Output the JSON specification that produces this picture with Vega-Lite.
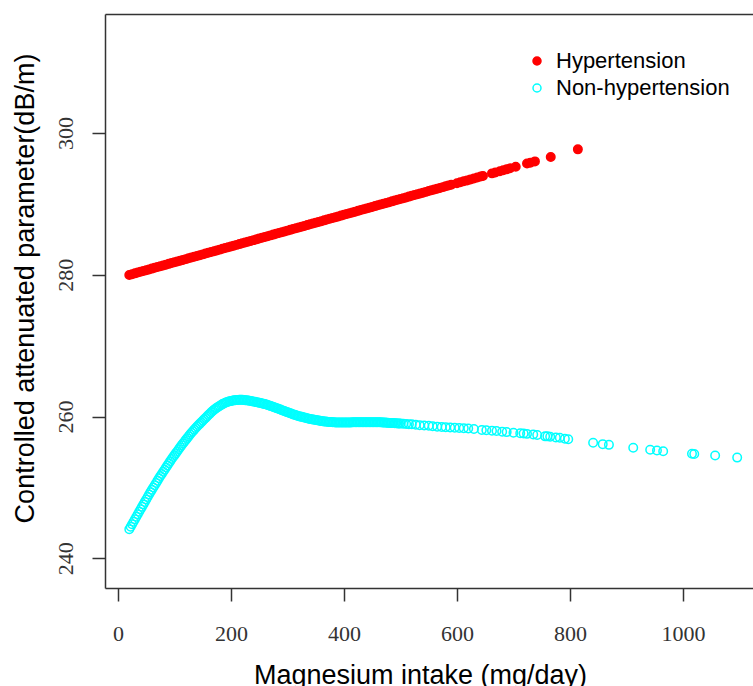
{
"$schema":"https://vega.github.io/schema/vega-lite/v6.json",
"width":648,"height":574,
"autosize":"none",
"padding":{"left":105,"top":14,"right":0,"bottom":98},
"background":"white",
"config":{"view":{"stroke":null},"font":"Liberation Sans"},
"datasets":{
"pts":[
{"g":"Hypertension","x":20,"y":279.98},{"g":"Hypertension","x":25,"y":280.09},{"g":"Hypertension","x":30,"y":280.20},{"g":"Hypertension","x":35,"y":280.31},{"g":"Hypertension","x":40,"y":280.42},{"g":"Hypertension","x":45,"y":280.54},{"g":"Hypertension","x":50,"y":280.65},{"g":"Hypertension","x":55,"y":280.76},{"g":"Hypertension","x":60,"y":280.87},{"g":"Hypertension","x":65,"y":280.98},{"g":"Hypertension","x":70,"y":281.09},{"g":"Hypertension","x":75,"y":281.21},{"g":"Hypertension","x":80,"y":281.32},{"g":"Hypertension","x":85,"y":281.43},{"g":"Hypertension","x":90,"y":281.54},{"g":"Hypertension","x":95,"y":281.65},{"g":"Hypertension","x":100,"y":281.76},{"g":"Hypertension","x":105,"y":281.87},{"g":"Hypertension","x":110,"y":281.99},{"g":"Hypertension","x":115,"y":282.10},{"g":"Hypertension","x":120,"y":282.21},{"g":"Hypertension","x":125,"y":282.32},{"g":"Hypertension","x":130,"y":282.43},{"g":"Hypertension","x":135,"y":282.54},{"g":"Hypertension","x":140,"y":282.66},{"g":"Hypertension","x":145,"y":282.77},{"g":"Hypertension","x":150,"y":282.88},{"g":"Hypertension","x":155,"y":282.99},{"g":"Hypertension","x":160,"y":283.10},{"g":"Hypertension","x":165,"y":283.21},{"g":"Hypertension","x":170,"y":283.33},{"g":"Hypertension","x":175,"y":283.44},{"g":"Hypertension","x":180,"y":283.55},{"g":"Hypertension","x":185,"y":283.66},{"g":"Hypertension","x":190,"y":283.77},{"g":"Hypertension","x":195,"y":283.88},{"g":"Hypertension","x":200,"y":284.00},{"g":"Hypertension","x":205,"y":284.11},{"g":"Hypertension","x":210,"y":284.22},{"g":"Hypertension","x":215,"y":284.33},{"g":"Hypertension","x":220,"y":284.44},{"g":"Hypertension","x":225,"y":284.55},{"g":"Hypertension","x":230,"y":284.66},{"g":"Hypertension","x":235,"y":284.78},{"g":"Hypertension","x":240,"y":284.89},{"g":"Hypertension","x":245,"y":285.00},{"g":"Hypertension","x":250,"y":285.11},{"g":"Hypertension","x":255,"y":285.22},{"g":"Hypertension","x":260,"y":285.33},{"g":"Hypertension","x":265,"y":285.45},{"g":"Hypertension","x":270,"y":285.56},{"g":"Hypertension","x":275,"y":285.67},{"g":"Hypertension","x":280,"y":285.78},{"g":"Hypertension","x":285,"y":285.89},{"g":"Hypertension","x":290,"y":286.00},{"g":"Hypertension","x":295,"y":286.12},{"g":"Hypertension","x":300,"y":286.23},{"g":"Hypertension","x":305,"y":286.34},{"g":"Hypertension","x":310,"y":286.45},{"g":"Hypertension","x":315,"y":286.56},{"g":"Hypertension","x":320,"y":286.67},{"g":"Hypertension","x":325,"y":286.79},{"g":"Hypertension","x":330,"y":286.90},{"g":"Hypertension","x":335,"y":287.01},{"g":"Hypertension","x":340,"y":287.12},{"g":"Hypertension","x":345,"y":287.23},{"g":"Hypertension","x":350,"y":287.34},{"g":"Hypertension","x":355,"y":287.45},{"g":"Hypertension","x":360,"y":287.57},{"g":"Hypertension","x":365,"y":287.68},{"g":"Hypertension","x":370,"y":287.79},{"g":"Hypertension","x":375,"y":287.90},{"g":"Hypertension","x":380,"y":288.01},{"g":"Hypertension","x":385,"y":288.12},{"g":"Hypertension","x":390,"y":288.24},{"g":"Hypertension","x":395,"y":288.35},{"g":"Hypertension","x":400,"y":288.46},{"g":"Hypertension","x":405,"y":288.57},{"g":"Hypertension","x":410,"y":288.68},{"g":"Hypertension","x":415,"y":288.79},{"g":"Hypertension","x":420,"y":288.91},{"g":"Hypertension","x":425,"y":289.02},{"g":"Hypertension","x":430,"y":289.13},{"g":"Hypertension","x":435,"y":289.24},{"g":"Hypertension","x":440,"y":289.35},{"g":"Hypertension","x":445,"y":289.46},{"g":"Hypertension","x":450,"y":289.58},{"g":"Hypertension","x":455,"y":289.69},{"g":"Hypertension","x":460,"y":289.80},{"g":"Hypertension","x":465,"y":289.91},{"g":"Hypertension","x":470,"y":290.02},{"g":"Hypertension","x":475,"y":290.13},{"g":"Hypertension","x":480,"y":290.24},{"g":"Hypertension","x":485,"y":290.36},{"g":"Hypertension","x":490,"y":290.47},{"g":"Hypertension","x":495,"y":290.58},{"g":"Hypertension","x":500,"y":290.69},{"g":"Hypertension","x":505,"y":290.80},{"g":"Hypertension","x":510,"y":290.91},{"g":"Hypertension","x":515,"y":291.03},{"g":"Hypertension","x":520,"y":291.14},{"g":"Hypertension","x":525,"y":291.25},{"g":"Hypertension","x":530,"y":291.36},{"g":"Hypertension","x":535,"y":291.47},{"g":"Hypertension","x":540,"y":291.58},{"g":"Hypertension","x":545,"y":291.70},{"g":"Hypertension","x":550,"y":291.81},{"g":"Hypertension","x":555,"y":291.92},{"g":"Hypertension","x":560,"y":292.03},{"g":"Hypertension","x":565,"y":292.14},{"g":"Hypertension","x":570,"y":292.25},{"g":"Hypertension","x":575,"y":292.37},{"g":"Hypertension","x":580,"y":292.48},{"g":"Hypertension","x":585,"y":292.59},{"g":"Hypertension","x":590,"y":292.70},
{"g":"Hypertension","x":600,"y":292.92},{"g":"Hypertension","x":606,"y":293.06},{"g":"Hypertension","x":612,"y":293.19},{"g":"Hypertension","x":618,"y":293.32},{"g":"Hypertension","x":624,"y":293.46},{"g":"Hypertension","x":630,"y":293.59},{"g":"Hypertension","x":636,"y":293.73},{"g":"Hypertension","x":642,"y":293.86},{"g":"Hypertension","x":646,"y":293.95},{"g":"Hypertension","x":662,"y":294.31},{"g":"Hypertension","x":668,"y":294.44},{"g":"Hypertension","x":676,"y":294.62},{"g":"Hypertension","x":682,"y":294.75},{"g":"Hypertension","x":688,"y":294.89},{"g":"Hypertension","x":694,"y":295.02},{"g":"Hypertension","x":704,"y":295.24},{"g":"Hypertension","x":724,"y":295.69},{"g":"Hypertension","x":730,"y":295.82},{"g":"Hypertension","x":738,"y":296.00},{"g":"Hypertension","x":766,"y":296.63},{"g":"Hypertension","x":814,"y":297.70},
{"g":"Non-hypertension","x":20,"y":244.1},{"g":"Non-hypertension","x":22.5,"y":244.45},{"g":"Non-hypertension","x":25,"y":244.8},{"g":"Non-hypertension","x":27.5,"y":245.15},{"g":"Non-hypertension","x":30,"y":245.5},{"g":"Non-hypertension","x":32.5,"y":245.85},{"g":"Non-hypertension","x":35,"y":246.2},{"g":"Non-hypertension","x":37.5,"y":246.55},{"g":"Non-hypertension","x":40,"y":246.9},{"g":"Non-hypertension","x":42.5,"y":247.25},{"g":"Non-hypertension","x":45,"y":247.6},{"g":"Non-hypertension","x":47.5,"y":247.95},{"g":"Non-hypertension","x":50,"y":248.3},{"g":"Non-hypertension","x":52.5,"y":248.65},{"g":"Non-hypertension","x":55,"y":249.0},{"g":"Non-hypertension","x":57.5,"y":249.33},{"g":"Non-hypertension","x":60,"y":249.65},{"g":"Non-hypertension","x":62.5,"y":249.98},{"g":"Non-hypertension","x":65,"y":250.3},{"g":"Non-hypertension","x":67.5,"y":250.63},{"g":"Non-hypertension","x":70,"y":250.95},{"g":"Non-hypertension","x":72.5,"y":251.28},{"g":"Non-hypertension","x":75,"y":251.6},{"g":"Non-hypertension","x":77.5,"y":251.9},{"g":"Non-hypertension","x":80,"y":252.2},{"g":"Non-hypertension","x":82.5,"y":252.5},{"g":"Non-hypertension","x":85,"y":252.8},{"g":"Non-hypertension","x":87.5,"y":253.1},{"g":"Non-hypertension","x":90,"y":253.4},{"g":"Non-hypertension","x":92.5,"y":253.7},{"g":"Non-hypertension","x":95,"y":254.0},{"g":"Non-hypertension","x":97.5,"y":254.28},{"g":"Non-hypertension","x":100,"y":254.55},{"g":"Non-hypertension","x":102.5,"y":254.83},{"g":"Non-hypertension","x":105,"y":255.1},{"g":"Non-hypertension","x":107.5,"y":255.38},{"g":"Non-hypertension","x":110,"y":255.65},{"g":"Non-hypertension","x":112.5,"y":255.93},{"g":"Non-hypertension","x":115,"y":256.2},{"g":"Non-hypertension","x":117.5,"y":256.45},{"g":"Non-hypertension","x":120,"y":256.7},{"g":"Non-hypertension","x":122.5,"y":256.95},{"g":"Non-hypertension","x":125,"y":257.2},{"g":"Non-hypertension","x":127.5,"y":257.45},{"g":"Non-hypertension","x":130,"y":257.7},{"g":"Non-hypertension","x":132.5,"y":257.93},{"g":"Non-hypertension","x":135,"y":258.15},{"g":"Non-hypertension","x":137.5,"y":258.38},{"g":"Non-hypertension","x":140,"y":258.6},{"g":"Non-hypertension","x":142.5,"y":258.8},{"g":"Non-hypertension","x":145,"y":259.0},{"g":"Non-hypertension","x":147.5,"y":259.2},{"g":"Non-hypertension","x":150,"y":259.4},{"g":"Non-hypertension","x":152.5,"y":259.6},{"g":"Non-hypertension","x":155,"y":259.8},{"g":"Non-hypertension","x":157.5,"y":260.0},{"g":"Non-hypertension","x":160,"y":260.2},{"g":"Non-hypertension","x":162.5,"y":260.4},{"g":"Non-hypertension","x":165,"y":260.6},{"g":"Non-hypertension","x":167.5,"y":260.78},{"g":"Non-hypertension","x":170,"y":260.95},{"g":"Non-hypertension","x":172.5,"y":261.1},{"g":"Non-hypertension","x":175,"y":261.25},{"g":"Non-hypertension","x":177.5,"y":261.38},{"g":"Non-hypertension","x":180,"y":261.5},{"g":"Non-hypertension","x":182.5,"y":261.63},{"g":"Non-hypertension","x":185,"y":261.75},{"g":"Non-hypertension","x":187.5,"y":261.85},{"g":"Non-hypertension","x":190,"y":261.95},{"g":"Non-hypertension","x":192.5,"y":262.03},{"g":"Non-hypertension","x":195,"y":262.1},{"g":"Non-hypertension","x":197.5,"y":262.15},{"g":"Non-hypertension","x":200,"y":262.2},{"g":"Non-hypertension","x":202.5,"y":262.24},{"g":"Non-hypertension","x":205,"y":262.28},{"g":"Non-hypertension","x":207.5,"y":262.31},{"g":"Non-hypertension","x":210,"y":262.33},{"g":"Non-hypertension","x":212.5,"y":262.34},{"g":"Non-hypertension","x":215,"y":262.35},{"g":"Non-hypertension","x":217.5,"y":262.35},{"g":"Non-hypertension","x":220,"y":262.35},{"g":"Non-hypertension","x":222.5,"y":262.33},{"g":"Non-hypertension","x":225,"y":262.3},{"g":"Non-hypertension","x":227.5,"y":262.28},{"g":"Non-hypertension","x":230,"y":262.25},
{"g":"Non-hypertension","x":232.5,"y":262.22},{"g":"Non-hypertension","x":235,"y":262.18},{"g":"Non-hypertension","x":237.5,"y":262.14},{"g":"Non-hypertension","x":240,"y":262.1},{"g":"Non-hypertension","x":242.5,"y":262.07},{"g":"Non-hypertension","x":245,"y":262.03},{"g":"Non-hypertension","x":247.5,"y":261.99},{"g":"Non-hypertension","x":250,"y":261.95},{"g":"Non-hypertension","x":252.5,"y":261.9},{"g":"Non-hypertension","x":255,"y":261.85},{"g":"Non-hypertension","x":257.5,"y":261.8},{"g":"Non-hypertension","x":260,"y":261.75},{"g":"Non-hypertension","x":262.5,"y":261.69},{"g":"Non-hypertension","x":265,"y":261.63},{"g":"Non-hypertension","x":267.5,"y":261.57},{"g":"Non-hypertension","x":270,"y":261.5},{"g":"Non-hypertension","x":272.5,"y":261.43},{"g":"Non-hypertension","x":275,"y":261.35},{"g":"Non-hypertension","x":277.5,"y":261.28},{"g":"Non-hypertension","x":280,"y":261.2},{"g":"Non-hypertension","x":282.5,"y":261.13},{"g":"Non-hypertension","x":285,"y":261.05},{"g":"Non-hypertension","x":287.5,"y":260.98},{"g":"Non-hypertension","x":290,"y":260.9},{"g":"Non-hypertension","x":292.5,"y":260.83},{"g":"Non-hypertension","x":295,"y":260.75},{"g":"Non-hypertension","x":297.5,"y":260.68},{"g":"Non-hypertension","x":300,"y":260.6},{"g":"Non-hypertension","x":302.5,"y":260.53},{"g":"Non-hypertension","x":305,"y":260.45},{"g":"Non-hypertension","x":307.5,"y":260.38},{"g":"Non-hypertension","x":310,"y":260.3},{"g":"Non-hypertension","x":312.5,"y":260.24},{"g":"Non-hypertension","x":315,"y":260.18},{"g":"Non-hypertension","x":317.5,"y":260.12},{"g":"Non-hypertension","x":320,"y":260.05},{"g":"Non-hypertension","x":322.5,"y":260.0},{"g":"Non-hypertension","x":325,"y":259.95},{"g":"Non-hypertension","x":327.5,"y":259.9},{"g":"Non-hypertension","x":330,"y":259.85},{"g":"Non-hypertension","x":332.5,"y":259.8},{"g":"Non-hypertension","x":335,"y":259.75},{"g":"Non-hypertension","x":337.5,"y":259.7},{"g":"Non-hypertension","x":340,"y":259.65},{"g":"Non-hypertension","x":342.5,"y":259.62},{"g":"Non-hypertension","x":345,"y":259.58},{"g":"Non-hypertension","x":347.5,"y":259.54},{"g":"Non-hypertension","x":350,"y":259.5},{"g":"Non-hypertension","x":352.5,"y":259.47},{"g":"Non-hypertension","x":355,"y":259.43},{"g":"Non-hypertension","x":357.5,"y":259.39},{"g":"Non-hypertension","x":360,"y":259.35},{"g":"Non-hypertension","x":362.5,"y":259.33},{"g":"Non-hypertension","x":365,"y":259.3},{"g":"Non-hypertension","x":367.5,"y":259.28},{"g":"Non-hypertension","x":370,"y":259.25},{"g":"Non-hypertension","x":372.5,"y":259.24},{"g":"Non-hypertension","x":375,"y":259.22},{"g":"Non-hypertension","x":377.5,"y":259.21},{"g":"Non-hypertension","x":380,"y":259.2},{"g":"Non-hypertension","x":382.5,"y":259.19},{"g":"Non-hypertension","x":385,"y":259.17},{"g":"Non-hypertension","x":387.5,"y":259.16},{"g":"Non-hypertension","x":390,"y":259.15},{"g":"Non-hypertension","x":392.5,"y":259.15},{"g":"Non-hypertension","x":395,"y":259.15},{"g":"Non-hypertension","x":397.5,"y":259.15},{"g":"Non-hypertension","x":400,"y":259.15},{"g":"Non-hypertension","x":402.5,"y":259.15},{"g":"Non-hypertension","x":405,"y":259.15},{"g":"Non-hypertension","x":407.5,"y":259.15},{"g":"Non-hypertension","x":410,"y":259.15},{"g":"Non-hypertension","x":412.5,"y":259.17},{"g":"Non-hypertension","x":415,"y":259.18},{"g":"Non-hypertension","x":417.5,"y":259.19},{"g":"Non-hypertension","x":420,"y":259.2},{"g":"Non-hypertension","x":422.5,"y":259.2},{"g":"Non-hypertension","x":425,"y":259.2},{"g":"Non-hypertension","x":427.5,"y":259.2},{"g":"Non-hypertension","x":430,"y":259.2},{"g":"Non-hypertension","x":432.5,"y":259.2},{"g":"Non-hypertension","x":435,"y":259.2},{"g":"Non-hypertension","x":437.5,"y":259.2},{"g":"Non-hypertension","x":440,"y":259.2},{"g":"Non-hypertension","x":442.5,"y":259.2},{"g":"Non-hypertension","x":445,"y":259.2},{"g":"Non-hypertension","x":447.5,"y":259.2},{"g":"Non-hypertension","x":450,"y":259.2},{"g":"Non-hypertension","x":452.5,"y":259.2},{"g":"Non-hypertension","x":455,"y":259.2},{"g":"Non-hypertension","x":457.5,"y":259.2},{"g":"Non-hypertension","x":460,"y":259.2},{"g":"Non-hypertension","x":462.5,"y":259.19},{"g":"Non-hypertension","x":465,"y":259.18},{"g":"Non-hypertension","x":467.5,"y":259.17},{"g":"Non-hypertension","x":470,"y":259.15},{"g":"Non-hypertension","x":472.5,"y":259.14},{"g":"Non-hypertension","x":475,"y":259.12},{"g":"Non-hypertension","x":477.5,"y":259.11},{"g":"Non-hypertension","x":480,"y":259.1},{"g":"Non-hypertension","x":482.5,"y":259.09},{"g":"Non-hypertension","x":485,"y":259.08},{"g":"Non-hypertension","x":487.5,"y":259.07},{"g":"Non-hypertension","x":490,"y":259.05},{"g":"Non-hypertension","x":492.5,"y":259.04},{"g":"Non-hypertension","x":495,"y":259.02},{"g":"Non-hypertension","x":497.5,"y":259.01},{"g":"Non-hypertension","x":500,"y":259.0},{"g":"Non-hypertension","x":505,"y":258.98},{"g":"Non-hypertension","x":510,"y":258.95},{"g":"Non-hypertension","x":515,"y":258.92},{"g":"Non-hypertension","x":520,"y":258.9},
{"g":"Non-hypertension","x":527,"y":258.83},{"g":"Non-hypertension","x":534,"y":258.78},{"g":"Non-hypertension","x":542,"y":258.74},{"g":"Non-hypertension","x":550,"y":258.7},{"g":"Non-hypertension","x":557,"y":258.63},{"g":"Non-hypertension","x":565,"y":258.57},{"g":"Non-hypertension","x":573,"y":258.52},{"g":"Non-hypertension","x":580,"y":258.5},{"g":"Non-hypertension","x":588,"y":258.45},{"g":"Non-hypertension","x":596,"y":258.41},{"g":"Non-hypertension","x":604,"y":258.38},{"g":"Non-hypertension","x":612,"y":258.33},{"g":"Non-hypertension","x":620,"y":258.3},{"g":"Non-hypertension","x":630,"y":258.25},
{"g":"Non-hypertension","x":644,"y":258.1},{"g":"Non-hypertension","x":652,"y":258.05},{"g":"Non-hypertension","x":662,"y":258.0},{"g":"Non-hypertension","x":670,"y":257.95},{"g":"Non-hypertension","x":680,"y":257.85},{"g":"Non-hypertension","x":688,"y":257.8},{"g":"Non-hypertension","x":700,"y":257.7},{"g":"Non-hypertension","x":712,"y":257.65},{"g":"Non-hypertension","x":718,"y":257.6},{"g":"Non-hypertension","x":724,"y":257.55},{"g":"Non-hypertension","x":735,"y":257.45},{"g":"Non-hypertension","x":742,"y":257.4},{"g":"Non-hypertension","x":756,"y":257.2},{"g":"Non-hypertension","x":760,"y":257.2},{"g":"Non-hypertension","x":765,"y":257.15},{"g":"Non-hypertension","x":775,"y":257.05},{"g":"Non-hypertension","x":782,"y":257.0},{"g":"Non-hypertension","x":791,"y":256.85},{"g":"Non-hypertension","x":797,"y":256.8},{"g":"Non-hypertension","x":841,"y":256.3},{"g":"Non-hypertension","x":858,"y":256.1},{"g":"Non-hypertension","x":869,"y":256.0},{"g":"Non-hypertension","x":912,"y":255.6},{"g":"Non-hypertension","x":942,"y":255.3},{"g":"Non-hypertension","x":954,"y":255.2},{"g":"Non-hypertension","x":965,"y":255.1},{"g":"Non-hypertension","x":1016,"y":254.75},{"g":"Non-hypertension","x":1020,"y":254.7},{"g":"Non-hypertension","x":1057,"y":254.5},{"g":"Non-hypertension","x":1096,"y":254.2}
]
},
"layer":[
{
"data":{"name":"pts"},
"mark":{"type":"point","shape":"circle","strokeWidth":1.5,"opacity":1,"size":72},
"encoding":{
"x":{"field":"x","type":"quantitative","scale":{"domain":[-23,1124],"nice":false,"zero":false},
"axis":{"orient":"bottom","values":[0,200,400,600,800,1000],"format":"d","grid":false,"domain":true,"domainColor":"#333","domainWidth":1.5,"tickColor":"#333","tickWidth":1.5,"tickSize":13,"labelFont":"Liberation Serif","labelFontSize":22,"labelColor":"#333","labelBaseline":"alphabetic","labelPadding":39,"title":"Magnesium intake (mg/day)","titleFont":"Liberation Sans","titleFontSize":27,"titleFontWeight":"normal","titleColor":"#000","titleX":315,"titleY":95,"titleBaseline":"alphabetic","titleAlign":"center"}},
"y":{"field":"y","type":"quantitative","scale":{"domain":[235.8,316.8],"nice":false,"zero":false},
"axis":{"values":[240,260,280,300],"grid":false,"domain":true,"domainColor":"#333","domainWidth":1.5,"tickColor":"#333","tickWidth":1.5,"tickSize":13,"labelFont":"Liberation Serif","labelFontSize":22,"labelColor":"#333","labelAngle":-90,"labelAlign":"center","labelBaseline":"alphabetic","labelPadding":20,"title":"Controlled attenuated parameter(dB/m)","titleFont":"Liberation Sans","titleFontSize":27,"titleFontWeight":"normal","titleColor":"#000","titleX":-72,"titleY":274,"titleBaseline":"alphabetic","titleAlign":"center","titleAngle":-90}},
"fill":{"field":"g","type":"nominal","scale":{"domain":["Hypertension","Non-hypertension"],"range":["#ff0000","transparent"]},"legend":{"orient":"none","legendX":421,"legendY":36,"title":null,"direction":"vertical","labelFontSize":22,"labelLimit":300,"symbolSize":64,"padding":0,"labelOffset":8,"rowPadding":5}},
"stroke":{"field":"g","type":"nominal","scale":{"domain":["Hypertension","Non-hypertension"],"range":["#ff0000","#00ffff"]},"legend":{"orient":"none","legendX":421,"legendY":36,"title":null,"direction":"vertical","labelFontSize":22,"labelLimit":300,"symbolSize":64,"padding":0,"labelOffset":8,"rowPadding":5}}
}
},
{
"data":{"values":[{"x":0}]},
"mark":{"type":"rule","strokeOpacity":0},
"encoding":{"x":{"field":"x","type":"quantitative","axis":{"orient":"top","labels":false,"ticks":false,"grid":false,"title":null,"domain":true,"domainColor":"#333","domainWidth":1.5}}}
}
]
}
